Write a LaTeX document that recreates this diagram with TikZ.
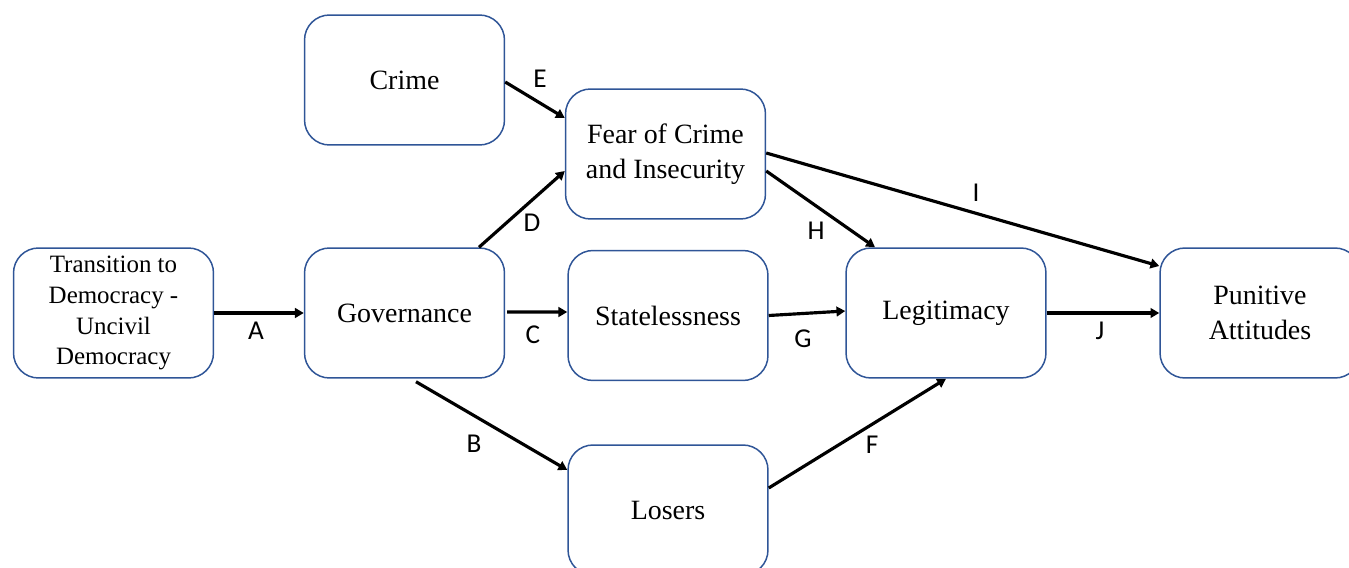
\documentclass[tikz,border=0pt]{standalone}
\usepackage{fontspec}
\setmainfont{Liberation Serif}
\newfontfamily\lblfont{Carlito}
\usetikzlibrary{arrows.meta}
\definecolor{boxblue}{RGB}{47,85,151}
\begin{document}
\begin{tikzpicture}[x=0.02cm,y=-0.02cm,
  box/.style={draw=boxblue, line width=0.85pt, rounded corners=0.5cm, minimum width=4cm, minimum height=2.6cm, align=center, font=\fontsize{15.9}{19.8}\selectfont, inner sep=0pt},
  conn/.style={line width=1.8pt, -{Triangle[length=5pt,width=5.5pt]}},
  lbl/.style={font=\lblfont\fontsize{15.5}{17}\selectfont, inner sep=0pt}]
\useasboundingbox (0,0) rectangle (1349,568);
\clip (0,0) rectangle (1349,568);
\node[box] (crime) at (404.5,80) {Crime};
\node[box] (fear) at (665.5,154) {Fear of Crime\\and Insecurity};
\node[box, font=\fontsize{14.2}{17.6}\selectfont] (trans) at (113.5,313) {Transition to\\Democracy -\\Uncivil\\Democracy};
\node[box] (gov) at (404.5,313) {Governance};
\node[box] (state) at (668,315.5) {Statelessness};
\node[box] (legit) at (946,313) {Legitimacy};
\node[box] (punit) at (1260,313) {Punitive\\Attitudes};
\node[box] (losers) at (668,510) {Losers};

\draw[conn] (trans.east) -- (gov.west);
\draw[conn] ([xshift=0.04cm,yshift=0.02cm]gov.east) -- ([yshift=0.07cm]state.west);
\draw[conn] (state.east) -- ([yshift=0.04cm]legit.west);
\draw[conn] (legit.east) -- (punit.west);
\draw[conn] ([xshift=1.49cm]gov.north) -- ([yshift=-0.34cm]fear.west);
\draw[conn] ([yshift=-0.04cm]crime.east) -- ([yshift=0.72cm]fear.west);
\draw[conn] ([yshift=-0.34cm]fear.east) -- ([xshift=-1.42cm]legit.north);
\draw[conn] ([yshift=0.02cm]fear.east) -- ([yshift=0.94cm]punit.west);
\draw[conn] ([xshift=0.23cm,yshift=-0.06cm]gov.south) -- ([yshift=0.8cm]losers.west);
\draw[conn] ([yshift=0.44cm]losers.east) -- (legit.south);

\node[lbl] (la) at (256,331) {A};
\node[lbl] (lc) at (533,335) {C};
\node[lbl] (lg) at (803,339) {G};
\node[lbl] (lj) at (1100,331) {J};
\node[lbl] (ld) at (532,223) {D};
\node[lbl] (le) at (540,79) {E};
\node[lbl] (lh) at (816,231) {H};
\node[lbl] (li) at (976,193) {I};
\node[lbl] (lb) at (474,444) {B};
\node[lbl] (lf) at (872,445) {F};
\end{tikzpicture}
\end{document}
